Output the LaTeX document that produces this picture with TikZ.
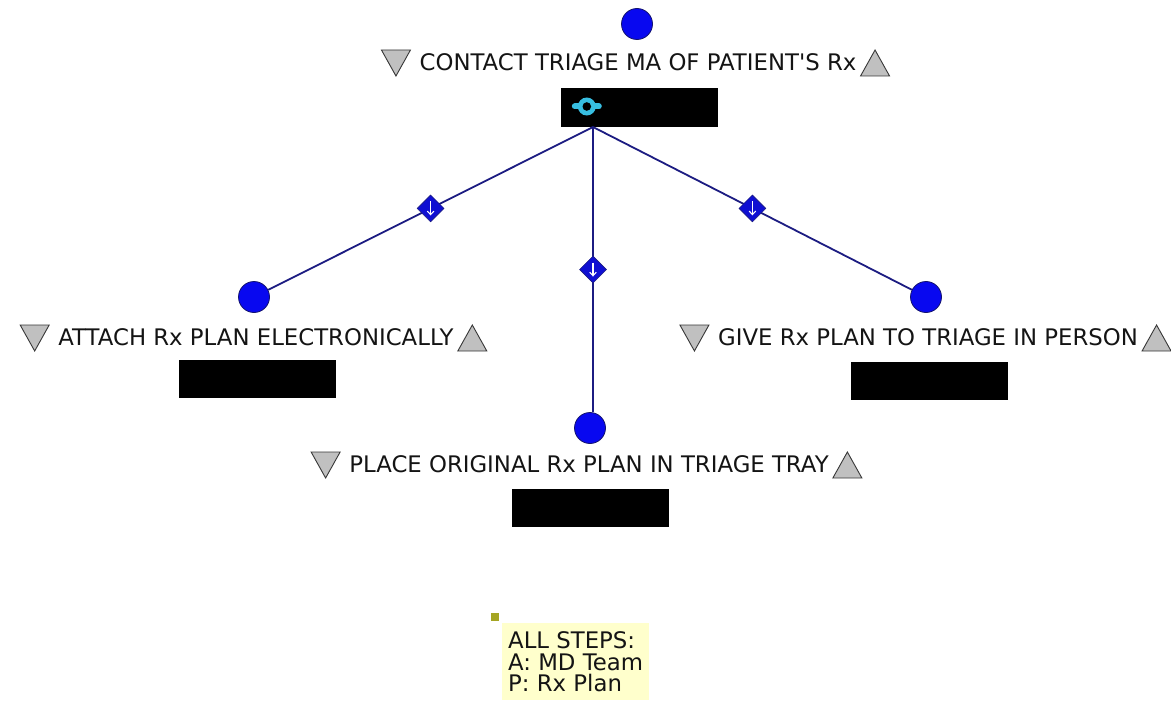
\documentclass[tikz,border=0pt]{standalone}
\usepackage{fontspec}
\setmainfont{DejaVu Sans}
% plain face without TeX ligature mapping, so the apostrophe stays straight
\newfontfamily\labelface{DejaVu Sans}
\usetikzlibrary{shapes.geometric,arrows.meta,calc}

\definecolor{dotblue}{RGB}{8,8,240}
\definecolor{dotedge}{RGB}{20,20,110}
\definecolor{wire}{RGB}{28,28,130}
\definecolor{gatefill}{RGB}{15,15,210}
\definecolor{triangfill}{RGB}{192,192,192}
\definecolor{triangedge}{RGB}{55,55,55}
\definecolor{hubcyan}{RGB}{55,190,225}
\definecolor{notefill}{RGB}{255,255,204}
\definecolor{notemark}{RGB}{165,165,35}
\definecolor{inktext}{RGB}{20,20,20}

\tikzset{
  stepdot/.style={circle, fill=dotblue, draw=dotedge, line width=0.8pt,
    minimum size=31pt, inner sep=0pt},
  stepname/.style={inner sep=0pt, text=inktext,
    font=\labelface\fontsize{22.8}{26}\selectfont, text height=16.6pt, text depth=0pt},
  redact/.style={fill=black, minimum width=157pt, minimum height=38pt, inner sep=0pt},
  wirestyle/.style={draw=wire, line width=1.8pt},
  gate/.style={diamond, fill=gatefill, draw=wire, line width=0.6pt,
    minimum size=27pt, inner sep=0pt},
  gatearrow/.style={white, line width=1.1pt, -{Straight Barb[length=3.5pt,width=6.5pt]}},
  triang/.style={fill=triangfill, draw=triangedge, line width=0.9pt, line join=miter},
  downmark/.pic={\path[triang] (-14.5,-13) -- (14.5,-13) -- (0,13) -- cycle;},
  upmark/.pic={\path[triang] (-14.5,13) -- (14.5,13) -- (0,-13) -- cycle;},
  notebox/.style={fill=notefill, align=left, text=inktext,
    font=\labelface\fontsize{22.8}{21.5}\selectfont, inner xsep=6pt, inner ysep=8.5pt},
  notedot/.style={fill=notemark, minimum size=8pt, inner sep=0pt},
}

\begin{document}
\begin{tikzpicture}[x=1pt, y=-1pt]
  \fill[white] (0,0) rectangle (1171,717);
  \useasboundingbox (0,0) rectangle (1171,717);

  % top step: contact triage
  \node[stepdot] (topdot) at (637,24) {};
  \node[stepname] (toplbl) at (638,62) {CONTACT TRIAGE MA OF PATIENT'S Rx};
  \pic at ($(toplbl.west)+(-23.5,1)$) {downmark};
  \pic at ($(toplbl.east)+(18.5,1)$) {upmark};
  \node[redact, minimum height=39pt] (topbox) at (639.5,107.5) {};
  % split symbol inside the top box
  \coordinate (sym) at ($(topbox.west)+(26,-1)$);
  \draw[hubcyan, line width=6pt, line cap=round] ($(sym)+(-12,0)$) -- ($(sym)+(12,0)$);
  \fill[hubcyan] (sym) circle (9);
  \fill[black] (sym) circle (4.3);
  \coordinate (hub) at (593,127);

  % left step
  \node[stepdot] (leftdot) at (254,297) {};
  \node[stepname] (leftlbl) at (256,337) {ATTACH Rx PLAN ELECTRONICALLY};
  \pic at ($(leftlbl.west)+(-23.5,1)$) {downmark};
  \pic at ($(leftlbl.east)+(18.5,1)$) {upmark};
  \node[redact] (leftbox) at (257.5,379) {};

  % right step
  \node[stepdot] (rightdot) at (926,297) {};
  \node[stepname] (rightlbl) at (928,337) {GIVE Rx PLAN TO TRIAGE IN PERSON};
  \pic at ($(rightlbl.west)+(-23.5,1)$) {downmark};
  \pic at ($(rightlbl.east)+(18.5,1)$) {upmark};
  \node[redact] (rightbox) at (929.5,381) {};

  % middle step
  \node[stepdot] (middot) at (590,428) {};
  \node[stepname] (midlbl) at (589,464) {PLACE ORIGINAL Rx PLAN IN TRIAGE TRAY};
  \pic at ($(midlbl.west)+(-23.5,1)$) {downmark};
  \pic at ($(midlbl.east)+(18.5,1)$) {upmark};
  \node[redact] (midbox) at (590.5,508) {};

  % connectors with their gates
  \draw[wirestyle] (hub) -- node[gate, pos=0.5] (g1) {} (leftdot);
  \draw[wirestyle] (hub) -- node[gate, pos=0.5] (g2) {} (hub |- middot.north);
  \draw[wirestyle] (hub) -- node[gate, pos=0.5] (g3) {} (rightdot);
  \foreach \g in {g1,g2,g3}
    \draw[gatearrow] ($(\g.center)+(0,-7)$) -- ($(\g.center)+(0,7)$);

  % note
  \node[notedot] (mark) at (495,617) {};
  \node[notebox, anchor=north west] (note) at (502,623) {ALL STEPS:\\A: MD Team\\P: Rx Plan};
\end{tikzpicture}
\end{document}
